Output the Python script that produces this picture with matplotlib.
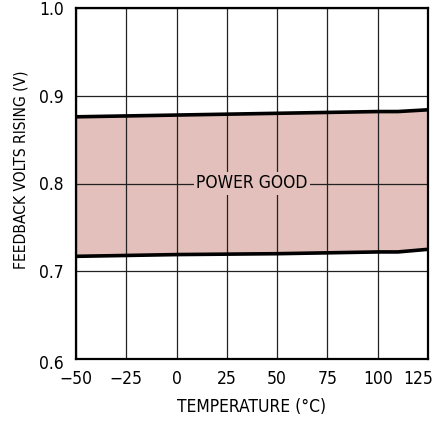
import numpy as np
import matplotlib.pyplot as plt
import matplotlib.transforms as mtransforms

# data
temp = [-50, -25, 0, 25, 50, 75, 100, 110, 125]
upper = [0.876, 0.877, 0.878, 0.879, 0.880, 0.881, 0.882, 0.882, 0.884]
lower = [0.717, 0.718, 0.719, 0.7195, 0.720, 0.721, 0.722, 0.722, 0.725]
xticks = [-50, -25, 0, 25, 50, 75, 100, 125]
xlabels = ['\u221250', '\u221225', '0', '25', '50', '75', '100', '125']
yticks = [0.6, 0.7, 0.8, 0.9, 1.0]

plt.rcParams['font.family'] = ['DejaVu Sans']
plt.rcParams['font.stretch'] = 'condensed'

fill_c = '#e3c0bb'
fs = 12.5
fig = plt.figure(figsize=(4.4, 4.21), dpi=100)
ax = fig.add_axes([76/440, 1-359/421, 352/440, 351/421])

ax.fill_between(temp, lower, upper, color=fill_c, lw=0, zorder=1)
ax.plot(temp, upper, color='black', lw=2.6, zorder=3)
ax.plot(temp, lower, color='black', lw=2.6, zorder=3)

ax.set_xlim(-50, 125)
ax.set_ylim(0.6, 1.0)
ax.set_xticks(xticks)
ax.set_xticklabels(xlabels)
ax.set_yticks(yticks)
ax.set_yticklabels([f'{v:.1f}' for v in yticks])
ax.grid(True, color='#222222', lw=0.9, zorder=2)
ax.set_axisbelow(False)
ax.tick_params(axis='x', length=0, labelsize=fs, pad=8)
ax.tick_params(axis='y', length=0, labelsize=fs, pad=9)
for s in ax.spines.values():
    s.set_linewidth(1.6)
    s.set_zorder(4)

# last x label pulled left to stay inside the figure
last = ax.get_xticklabels()[-1]
last.set_transform(last.get_transform() + mtransforms.ScaledTranslation(-10/100, 0, fig.dpi_scale_trans))
# 0.6 label sits a bit lower like the reference
first = ax.get_yticklabels()[0]
first.set_transform(first.get_transform() + mtransforms.ScaledTranslation(0, -3/100, fig.dpi_scale_trans))

ax.text(37.5, 0.8, 'POWER GOOD', ha='center', va='center', fontsize=fs, zorder=5,
        bbox=dict(facecolor=fill_c, edgecolor='none', pad=1.5))

ax.set_xlabel('TEMPERATURE (\u00b0C)', fontsize=fs, labelpad=7)
ax.set_ylabel('FEEDBACK VOLTS RISING (V)', fontsize=11.2)
ax.yaxis.set_label_coords(-0.136, 0.538)

fig.savefig('out.png', dpi=100)
